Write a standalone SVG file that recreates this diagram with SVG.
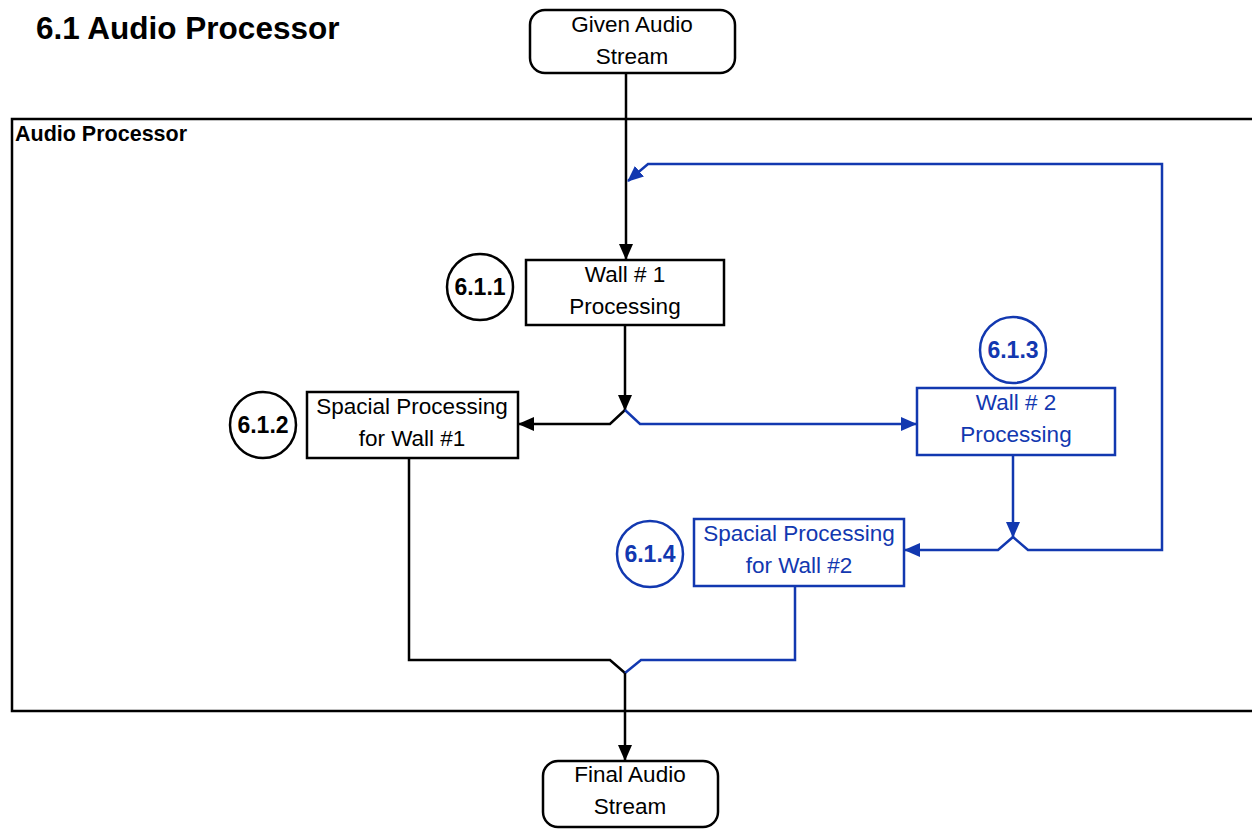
<svg xmlns="http://www.w3.org/2000/svg" width="1252" height="829" viewBox="0 0 1252 829">
<style>
.t{font-family:"Liberation Sans",Arial,sans-serif;font-size:22.5px;text-anchor:middle}
.b{font-family:"Liberation Sans",Arial,sans-serif;font-weight:bold}
.n{font-size:23px;text-anchor:middle}
.k{fill:none;stroke:#000;stroke-width:2.5}
.bl{fill:none;stroke:#1238b0;stroke-width:2.5}
.bt{fill:#1238b0}
</style>
<defs>
<marker id="ak" markerUnits="userSpaceOnUse" markerWidth="16" markerHeight="14" refX="15" refY="7" orient="auto"><path d="M0,0 L16,7 L0,14 z" fill="#000"/></marker>
<marker id="ab" markerUnits="userSpaceOnUse" markerWidth="16" markerHeight="14" refX="15" refY="7" orient="auto"><path d="M0,0 L16,7 L0,14 z" fill="#1238b0"/></marker>
</defs>
<rect width="1252" height="829" fill="#fff"/>
<text class="b" x="36" y="39" font-size="31.5">6.1 Audio Processor</text>
<g id="container">
<path d="M1254,119 H12 V711 H1254" class="k"/>
<text class="b" x="15" y="141" font-size="21.5">Audio Processor</text>
</g>
<g id="connectors">
<path d="M626,73 V259" class="k" marker-end="url(#ak)"/>
<path d="M625,325 V410" class="k" marker-end="url(#ak)"/>
<path d="M625,410 L610,424 H519" class="k" marker-end="url(#ak)"/>
<path d="M625,410 L640,424 H916" class="bl" marker-end="url(#ab)"/>
<path d="M1013,455 V537" class="bl" marker-end="url(#ab)"/>
<path d="M1013,537 L998,550 H905" class="bl" marker-end="url(#ab)"/>
<path d="M1013,537 L1028,550 H1162 V164 H648 L628,181" class="bl" marker-end="url(#ab)"/>
<path d="M409,458 V660 H610 L625,673" class="k"/>
<path d="M795,586 V660 H641 L625,673" class="bl"/>
<path d="M625,673 V760" class="k" marker-end="url(#ak)"/>
</g>
<g id="given">
<rect x="530" y="10" width="205" height="63" rx="15" class="k"/>
<text class="t" x="632" y="32">Given Audio</text>
<text class="t" x="632" y="64">Stream</text>
</g>
<g id="wall1">
<rect x="526" y="260" width="198" height="65" class="k"/>
<text class="t" x="625" y="282">Wall # 1</text>
<text class="t" x="625" y="314">Processing</text>
</g>
<g id="c611">
<circle cx="480" cy="287" r="33" class="k"/>
<text class="b n" x="480" y="295">6.1.1</text>
</g>
<g id="spacial1">
<rect x="307" y="392" width="211" height="66" class="k"/>
<text class="t" x="412" y="414">Spacial Processing</text>
<text class="t" x="412" y="446">for Wall #1</text>
</g>
<g id="c612">
<circle cx="263" cy="425" r="33" class="k"/>
<text class="b n" x="263" y="433">6.1.2</text>
</g>
<g id="c613">
<circle cx="1013" cy="350" r="33" class="bl"/>
<text class="b n bt" x="1013" y="358">6.1.3</text>
</g>
<g id="wall2">
<rect x="917" y="388" width="198" height="67" class="bl"/>
<text class="t bt" x="1016" y="410">Wall # 2</text>
<text class="t bt" x="1016" y="442">Processing</text>
</g>
<g id="spacial2">
<rect x="694" y="519" width="210" height="67" class="bl"/>
<text class="t bt" x="799" y="541">Spacial Processing</text>
<text class="t bt" x="799" y="573">for Wall #2</text>
</g>
<g id="c614">
<circle cx="650" cy="554" r="33" class="bl"/>
<text class="b n bt" x="650" y="562">6.1.4</text>
</g>
<g id="final">
<rect x="543" y="761" width="175" height="66" rx="15" class="k"/>
<text class="t" x="630" y="782">Final Audio</text>
<text class="t" x="630" y="814">Stream</text>
</g>
</svg>
